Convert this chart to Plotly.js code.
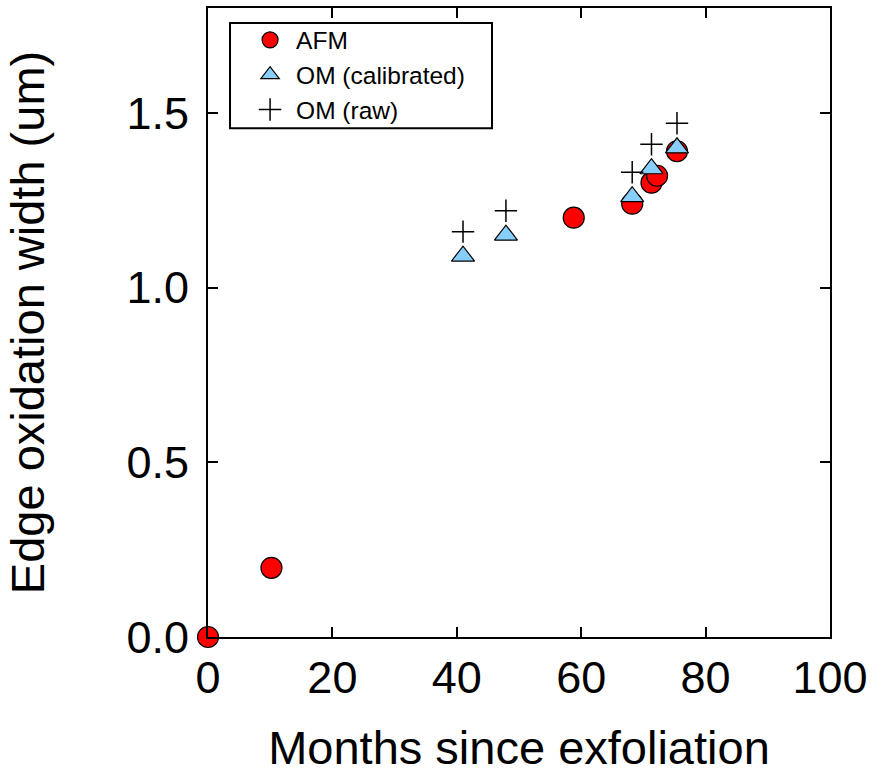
<!DOCTYPE html>
<html>
<head>
<meta charset="utf-8">
<script src="https://cdn.plot.ly/plotly-3.0.1.min.js"></script>
<style>html,body{margin:0;padding:0;background:#fff;}#chart{width:872px;height:774px;}</style>
</head>
<body>
<div id="chart"></div>
<script>
const afmX = [0, 10.2, 58.8, 68.2, 71.3, 72.2, 75.4];
const afmY = [0, 0.198, 1.20, 1.24, 1.30, 1.32, 1.39];
const omX = [41.0, 47.9, 68.2, 71.3, 75.4];
const omCalY = [1.09, 1.15, 1.26, 1.34, 1.40];
const omRawY = [1.16, 1.22, 1.33, 1.41, 1.47];
const xTicks = [0, 20, 40, 60, 80, 100];
const yTicks = [0, 0.5, 1.0, 1.5];

const FONT = 'Liberation Sans, Arial, sans-serif';

const traces = [
  {x: afmX, y: afmY, name: 'AFM', type: 'scatter', mode: 'markers', cliponaxis: false,
   marker: {symbol: 'circle', size: 21, color: '#ff0000', line: {color: '#000', width: 1.2}}},
  {x: omX, y: omCalY, name: 'OM (calibrated)', type: 'scatter', mode: 'markers', cliponaxis: false,
   marker: {symbol: 'triangle-up', size: 20, color: '#87cefa', line: {color: '#000', width: 1.2}}},
  {x: omX, y: omRawY, name: 'OM (raw)', type: 'scatter', mode: 'markers', cliponaxis: false,
   marker: {symbol: 'cross-thin-open', size: 16, color: '#000', line: {color: '#000', width: 1.5}}}
];

const axisCommon = {
  showgrid: false, zeroline: false, showline: true, linecolor: '#000', linewidth: 2,
  mirror: 'allticks', ticks: 'inside', ticklen: 10, tickwidth: 2, tickcolor: '#000',
  tickfont: {family: FONT, size: 45, color: '#000'}
};

const layout = {
  width: 872, height: 774,
  margin: {l: 208, r: 42, t: 8, b: 137},
  paper_bgcolor: '#fff', plot_bgcolor: '#fff',
  font: {family: FONT, color: '#000'},
  showlegend: true,
  legend: {x: 0.058, y: 0.985, xanchor: 'left', yanchor: 'top',
    borderwidth: 0, bgcolor: 'rgba(0,0,0,0)', itemwidth: 42,
    font: {family: FONT, size: 24.5, color: '#000'}, tracegroupgap: 0},
  shapes: [
    {type: 'rect', xref: 'paper', yref: 'paper', x0: 0.0354, x1: 0.4566, y0: 0.809, y1: 0.976,
     line: {color: '#000', width: 2}, fillcolor: 'rgba(0,0,0,0)', layer: 'above'}
  ],
  xaxis: Object.assign({}, axisCommon, {
    range: [0, 100], tickvals: xTicks, ticktext: xTicks.map(String),
    title: {text: 'Months since exfoliation', font: {family: FONT, size: 47, color: '#000'}, standoff: 45}
  }),
  yaxis: Object.assign({}, axisCommon, {
    range: [0, 1.8], tickvals: yTicks, ticktext: yTicks.map(v => v.toFixed(1)),
    ticklabelstandoff: 8,
    title: {text: 'Edge oxidation width (um)', font: {family: FONT, size: 47, color: '#000'}, standoff: 67}
  })
};

Plotly.newPlot('chart', traces, layout, {displayModeBar: false, staticPlot: true});
</script>
</body>
</html>
